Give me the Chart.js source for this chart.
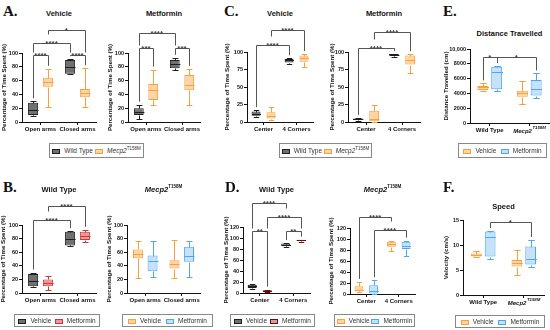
<!DOCTYPE html>
<html>
<head>
<meta charset="utf-8">
<script src="https://cdn.jsdelivr.net/npm/chart.js@4.4.1/dist/chart.umd.min.js"></script>
<style>
  body { margin: 0; width: 550px; height: 330px; position: relative; background: #fff; overflow: hidden;
         font-family: "Liberation Sans", Arial, sans-serif; color: #111; }
  canvas { position: absolute; }
  .t { position: absolute; transform: translate(-50%, -50%); font-weight: bold; font-size: 7.5px; white-space: nowrap; color: #111; }
  .let { position: absolute; font-family: "Liberation Serif", "Times New Roman", serif; font-weight: bold; font-size: 15px; color: #111; }
  .lg { position: absolute; box-sizing: border-box; border: 1px solid #888; display: flex; align-items: center;
        justify-content: space-evenly; font-size: 6.5px; color: #333; white-space: nowrap; }
  .sw { display: inline-block; width: 6px; height: 3px; border: 1px solid; margin-right: 4px; vertical-align: middle; }
  sup { font-size: 4.5px; position: relative; top: -1px; vertical-align: top; }
</style>
</head>
<body>
<script>
Chart.defaults.font.family = '"Liberation Sans", Arial, sans-serif';
Chart.defaults.color = '#111';

// categories
const armCats = ['Open arms', 'Closed arms'];
const zoneCats = ['Center', '4 Corners'];
const genoCats = ['Wild Type', 'Mecp2|T158M'];

// box stats per category: [min, q1, median, q3, max]
// elevated plus maze (% time)
const epmWtVeh = [[9, 10, 17, 28, 30], [69, 70, 80, 90, 91]];
const epmMutVeh = [[22, 51, 58, 64, 77], [22, 36, 42, 48, 78]];
const epmWtMet = [[5, 10, 15, 20, 25], [75, 78, 84, 90, 93]];
const epmMutMet = [[24, 32, 47, 55, 76], [24, 46, 54, 68, 77]];

// open field (% time)
const ofWtVeh = [[7, 9, 12, 15, 17], [83, 85, 88, 90, 91]];
const ofMutVeh = [[3, 5, 8, 14, 22], [78, 86, 91, 95, 97]];
const ofWtMet = [[2, 3, 4, 5, 6], [93, 95, 96, 97, 97]];
const ofMutMet = [[0, 1, 5, 16, 25], [70, 82, 88, 95, 97]];

// distance (cm) and speed (cm/s), per genotype
const distVeh = [[4300, 4450, 4800, 5000, 5350], [2550, 3550, 4000, 4350, 5650]];
const distMet = [[4350, 4550, 6900, 7600, 7700], [3400, 3700, 4550, 5800, 6700]];
const speedVeh = [[7.6, 7.7, 8.0, 8.3, 8.8], [4.0, 5.7, 6.5, 7.0, 9.1]];
const speedMet = [[7.1, 7.7, 11.5, 12.7, 12.8], [5.7, 6.1, 7.3, 9.7, 11.0]];

// significance: [dataset a, category a, dataset b, category b, bracket value, stars]
const sigAVeh = [[0, 0, 1, 0, 97, '****'], [0, 1, 1, 1, 97, '****'], [0, 0, 0, 1, 114, '****'], [1, 0, 1, 1, 133, '*']];
const sigAMet = [[0, 0, 1, 0, 107, '***'], [0, 1, 1, 1, 107, '***'], [0, 0, 0, 1, 129, '****']];
const sigBWt = [[0, 0, 0, 1, 107, '****'], [1, 0, 1, 1, 128, '****']];
const sigCVeh = [[0, 0, 0, 1, 110, '****'], [1, 0, 1, 1, 131, '****']];
const sigCMet = [[0, 0, 0, 1, 106, '****'], [1, 0, 1, 1, 129, '****']];
const sigDWt = [[0, 0, 1, 0, 112, '**'], [0, 1, 1, 1, 112, '**'], [0, 0, 0, 1, 164, '****'], [1, 0, 1, 1, 138, '****']];
const sigDMut = [[0, 0, 0, 1, 140, '****'], [1, 0, 1, 1, 116, '****']];
const sigE = [[0, 0, 1, 0, 8900, '*'], [1, 0, 1, 1, 8900, '*']];
const sigF = [[1, 0, 1, 1, 14.6, '*']];

const C = {
  wt: { fill: '#707070', line: '#1e1e1e' },
  mut: { fill: '#fdd4a6', line: '#f7a13d' },
  met: { fill: '#c6e2fa', line: '#4ba7f0' },
  red: { fill: '#f29595', line: '#c33a3a' },
  dred: { fill: '#e09a9a', line: '#5e1010' }
};
const MUT = '<i>Mecp2</i><sup>T158M</sup>';

function boxPlugin(p) {
  return {
    id: 'boxes',
    afterDatasetsDraw(chart) {
      const ctx = chart.ctx, ys = chart.scales.y;
      const py = v => Math.round(ys.getPixelForValue(v)) + 0.5;
      chart.data.datasets.forEach((ds, i) => {
        chart.getDatasetMeta(i).data.forEach((bar, j) => {
          const s = ds.stats[j];
          const x = Math.round(bar.x) + 0.5, hw = bar.width / 2, cap = bar.width * 0.3;
          ctx.save();
          ctx.strokeStyle = ds.borderColor;
          ctx.lineWidth = 1;
          ctx.beginPath();
          ctx.moveTo(x, py(s[3])); ctx.lineTo(x, py(s[4]));
          ctx.moveTo(x - cap, py(s[4])); ctx.lineTo(x + cap, py(s[4]));
          ctx.moveTo(x, py(s[1])); ctx.lineTo(x, py(s[0]));
          ctx.moveTo(x - cap, py(s[0])); ctx.lineTo(x + cap, py(s[0]));
          ctx.moveTo(x - hw, py(s[2])); ctx.lineTo(x + hw, py(s[2]));
          ctx.stroke();
          ctx.restore();
        });
      });
    },
    afterDraw(chart) {
      const ctx = chart.ctx, ys = chart.scales.y, xs = chart.scales.x;
      const font = 'bold 8px "Liberation Sans", Arial, sans-serif';
      // obstacles: whisker tops, bracket lines and their stars
      const obs = [];
      chart.data.datasets.forEach((ds, i) => {
        chart.getDatasetMeta(i).data.forEach((bar, j) => {
          obs.push({ x0: bar.x - bar.width / 2, x1: bar.x + bar.width / 2, top: ys.getPixelForValue(ds.stats[j][4]) });
        });
      });
      ctx.font = font;
      const brs = (p.sig || []).map(b => {
        const xa = chart.getDatasetMeta(b[0]).data[b[1]].x;
        const xb = chart.getDatasetMeta(b[2]).data[b[3]].x;
        const y = Math.round(ys.getPixelForValue(b[4])) + 0.5;
        const cx = (xa + xb) / 2, tw = ctx.measureText(b[5]).width;
        obs.push({ x0: Math.min(xa, xb), x1: Math.max(xa, xb), top: y });
        obs.push({ x0: cx - tw / 2, x1: cx + tw / 2, top: y - 6 });
        return { xa, xb, y, cx, label: b[5] };
      });
      const legEnd = (x, y) => {
        let m = Infinity;
        obs.forEach(o => { if (x >= o.x0 - 0.5 && x <= o.x1 + 0.5 && o.top > y + 2) m = Math.min(m, o.top); });
        return m === Infinity ? y + 5 : m - 3;
      };
      ctx.save();
      ctx.strokeStyle = '#555';
      ctx.fillStyle = '#444';
      ctx.lineWidth = 1;
      brs.forEach(b => {
        const xa = Math.round(b.xa) + 0.5, xb = Math.round(b.xb) + 0.5;
        ctx.beginPath();
        ctx.moveTo(xa, legEnd(b.xa, b.y)); ctx.lineTo(xa, b.y);
        ctx.lineTo(xb, b.y); ctx.lineTo(xb, legEnd(b.xb, b.y));
        ctx.stroke();
        ctx.textAlign = 'center';
        ctx.textBaseline = 'alphabetic';
        ctx.fillText(b.label, b.cx, b.y + 2);
      });
      ctx.restore();
      // category labels with superscript
      chart.data.labels.forEach((lab, i) => {
        if (!lab.includes('|')) return;
        const [main, sup] = lab.split('|');
        const x = xs.getPixelForValue(i), y = chart.chartArea.bottom + 5;
        ctx.save();
        ctx.fillStyle = '#111';
        ctx.textBaseline = 'top';
        ctx.textAlign = 'left';
        ctx.font = 'italic bold 6px "Liberation Sans", Arial, sans-serif';
        const w1 = ctx.measureText(main).width;
        ctx.font = 'italic bold 4.3px "Liberation Sans", Arial, sans-serif';
        const w2 = ctx.measureText(sup).width;
        const x0 = x - (w1 + w2) / 2;
        ctx.fillText(sup, x0 + w1 + 0.5, y - 2);
        ctx.font = 'italic bold 6px "Liberation Sans", Arial, sans-serif';
        ctx.fillText(main, x0, y);
        ctx.restore();
      });
    }
  };
}

function addText(cls, html, x, y) {
  const d = document.createElement('div');
  d.className = cls;
  d.innerHTML = html;
  d.style.left = x + 'px';
  d.style.top = y + 'px';
  document.body.appendChild(d);
}

function legend(x, y, w, h, items) {
  const d = document.createElement('div');
  d.className = 'lg';
  Object.assign(d.style, { left: x + 'px', top: y + 'px', width: w + 'px', height: h + 'px' });
  d.innerHTML = items.map(it =>
    '<span><span class="sw" style="background:' + it[1].fill + ';border-color:' + it[1].line + '"></span>' + it[0] + '</span>'
  ).join('');
  document.body.appendChild(d);
}

function panel(p) {
  const left = p.tx - 4, top = p.top;
  const w = p.R + 3 - left, h = p.B + 14 - top;
  const yw = p.L - left;
  const cv = document.createElement('canvas');
  cv.width = w; cv.height = h;
  cv.style.left = left + 'px'; cv.style.top = top + 'px';
  cv.style.width = w + 'px'; cv.style.height = h + 'px';
  document.body.appendChild(cv);
  addText('t', p.title, (p.L + p.R) / 2, p.ty);
  new Chart(cv, {
    type: 'bar',
    data: {
      labels: p.labels,
      datasets: p.series.map(s => ({
        data: s.stats.map(v => [v[1], v[3]]),
        stats: s.stats,
        backgroundColor: s.c.fill,
        borderColor: s.c.line,
        borderWidth: 1,
        borderSkipped: false,
        categoryPercentage: p.cp || 0.8,
        barPercentage: p.bp || 0.68
      }))
    },
    options: {
      responsive: false,
      animation: false,
      layout: { padding: { left: 0, right: 3, top: p.T - top, bottom: 0 } },
      plugins: { legend: { display: false }, tooltip: { enabled: false } },
      scales: {
        x: {
          offset: true,
          grid: { display: true, drawOnChartArea: false, offset: false, tickLength: 3, color: '#111' },
          border: { display: true, color: '#111', width: 1 },
          ticks: {
            font: { size: 6, weight: 'bold' }, color: '#111', padding: 1, maxRotation: 0, autoSkip: false,
            callback: function (v) { const l = this.getLabelForValue(v); return l.includes('|') ? '' : l; }
          },
          afterFit: s => { s.height = 14; }
        },
        y: {
          min: 0, max: p.yMax,
          grid: { display: true, drawOnChartArea: false, tickLength: 3, color: '#111' },
          border: { display: true, color: '#111', width: 1 },
          ticks: {
            font: { size: 5.5, weight: 'bold' }, color: '#111', padding: 1, stepSize: p.step,
            callback: v => (v >= 10000 ? v.toLocaleString('en-US') : v)
          },
          title: { display: true, text: p.yTitle, font: { size: 6.2, weight: 'bold' }, color: '#111', padding: 0 },
          afterFit: s => { s.width = yw; }
        }
      }
    },
    plugins: [boxPlugin(p)]
  });
}

const pct = 'Percentage of Time Spent (%)';

// A
addText('let', 'A.', 3, 3);
panel({ tx: 5, top: 18, L: 22, R: 96, T: 53, B: 122, yMax: 100, step: 20, labels: armCats, yTitle: pct,
  series: [{ stats: epmWtVeh, c: C.wt }, { stats: epmMutVeh, c: C.mut }], sig: sigAVeh, title: 'Vehicle', ty: 13 });
panel({ tx: 111, top: 18, L: 128, R: 200, T: 53, B: 122, yMax: 100, step: 20, labels: armCats, yTitle: pct,
  series: [{ stats: epmWtMet, c: C.wt }, { stats: epmMutMet, c: C.mut }], sig: sigAMet, title: 'Metformin', ty: 13 });
legend(49, 143, 95, 15, [['Wild Type', C.wt], [MUT, C.mut]]);

// B
addText('let', 'B.', 3, 179);
panel({ tx: 4, top: 192, L: 22, R: 96, T: 225, B: 293, yMax: 100, step: 20, labels: armCats, yTitle: pct,
  series: [{ stats: epmWtVeh, c: C.wt }, { stats: epmWtMet, c: C.red }], sig: sigBWt, title: 'Wild Type', ty: 189 });
panel({ tx: 110, top: 192, L: 127, R: 200, T: 225, B: 293, yMax: 100, step: 20, labels: armCats, yTitle: pct,
  series: [{ stats: epmMutVeh, c: C.mut }, { stats: epmMutMet, c: C.met }], sig: [], title: MUT, ty: 189 });
legend(14, 314, 86, 13, [['Vehicle', C.wt], ['Metformin', C.red]]);
legend(122, 314, 91, 13, [['Vehicle', C.mut], ['Metformin', C.met]]);

// C
addText('let', 'C.', 224, 3);
panel({ tx: 228, top: 18, L: 247, R: 313, T: 52, B: 122, yMax: 100, step: 25, labels: zoneCats, yTitle: pct,
  cp: 0.9, bp: 0.6, series: [{ stats: ofWtVeh, c: C.wt }, { stats: ofMutVeh, c: C.mut }], sig: sigCVeh, title: 'Vehicle', ty: 13 });
panel({ tx: 333, top: 18, L: 348, R: 420, T: 52, B: 122, yMax: 100, step: 25, labels: zoneCats, yTitle: pct,
  cp: 0.9, bp: 0.6, series: [{ stats: ofWtMet, c: C.wt }, { stats: ofMutMet, c: C.mut }], sig: sigCMet, title: 'Metformin', ty: 13 });
legend(279, 143, 93, 15, [['Wild Type', C.wt], [MUT, C.mut]]);

// D
addText('let', 'D.', 225, 179);
panel({ tx: 227, top: 192, L: 243, R: 310, T: 227, B: 293, yMax: 120, step: 20, labels: zoneCats, yTitle: pct,
  cp: 0.9, bp: 0.6, series: [{ stats: ofWtVeh, c: C.wt }, { stats: ofWtMet, c: C.dred }], sig: sigDWt, title: 'Wild Type', ty: 189 });
panel({ tx: 332, top: 192, L: 350, R: 415, T: 228, B: 294, yMax: 120, step: 20, labels: zoneCats, yTitle: pct,
  cp: 0.9, bp: 0.6, series: [{ stats: ofMutVeh, c: C.mut }, { stats: ofMutMet, c: C.met }], sig: sigDMut, title: MUT, ty: 189 });
legend(230, 314, 85, 13, [['Vehicle', C.wt], ['Metformin', C.dred]]);
legend(334, 314, 81, 13, [['Vehicle', C.mut], ['Metformin', C.met]]);

// E
addText('let', 'E.', 443, 3);
panel({ tx: 447, top: 40, L: 470, R: 549, T: 49, B: 123, yMax: 10000, step: 2000, labels: genoCats,
  yTitle: 'Distance Travelled (cm)', cp: 0.7, bp: 0.79,
  series: [{ stats: distVeh, c: C.mut }, { stats: distMet, c: C.met }], sig: sigE, title: 'Distance Travelled', ty: 33 });
legend(458, 143, 89, 15, [['Vehicle', C.mut], ['Metformin', C.met]]);

// F
addText('let', 'F.', 443, 179);
panel({ tx: 447, top: 212, L: 463, R: 544, T: 220, B: 295, yMax: 15, step: 5, labels: genoCats,
  yTitle: 'Velocity (cm/s)', cp: 0.68, bp: 0.78,
  series: [{ stats: speedVeh, c: C.mut }, { stats: speedMet, c: C.met }], sig: sigF, title: 'Speed', ty: 206 });
legend(455, 315, 90, 13, [['Vehicle', C.mut], ['Metformin', C.met]]);
</script>
</body>
</html>
